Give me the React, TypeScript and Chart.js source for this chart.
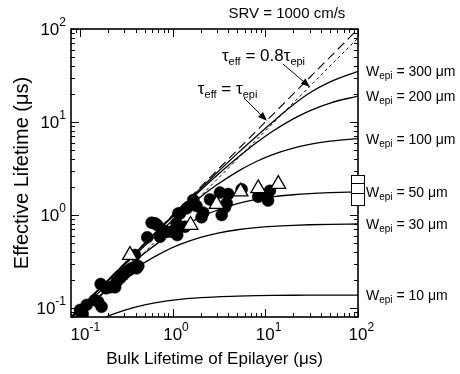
import React, { useEffect, useRef } from "react";
import { Chart, registerables } from "chart.js";
Chart.register(...registerables);

const FONT = "'Liberation Sans', Arial, Helvetica, sans-serif";

// axis
const axisMin = 0.08;
const axisMax = 100;
const majorTickValues = [0.1, 1, 10, 100];
const majorTickExponents = ["-1", "0", "1", "2"];

// model curves
const curveX = [0.08, 0.12, 0.2, 0.3, 0.5, 0.8, 1.2, 2, 3, 5, 8, 12, 20, 30, 50, 100];
const w10Y = [0.0506, 0.0642, 0.0816, 0.0945, 0.108, 0.1176, 0.1237, 0.129, 0.1319, 0.1342, 0.1356, 0.1364, 0.137, 0.1373, 0.1376, 0.1378];
const w30Y = [0.0728, 0.1045, 0.16, 0.219, 0.309, 0.402, 0.482, 0.575, 0.636, 0.694, 0.733, 0.756, 0.775, 0.785, 0.794, 0.8];
const w50Y = [0.0766, 0.1125, 0.18, 0.257, 0.391, 0.554, 0.72, 0.947, 1.125, 1.323, 1.469, 1.565, 1.65, 1.698, 1.736, 1.767];
const w100Y = [0.0791, 0.118, 0.1945, 0.288, 0.467, 0.719, 1.027, 1.56, 2.11, 2.93, 3.76, 4.46, 5.24, 5.75, 6.22, 6.63];
const w200Y = [0.0795, 0.1194, 0.1983, 0.2962, 0.4896, 0.7737, 1.142, 1.843, 2.66, 4.12, 5.97, 7.94, 10.8, 13.2, 16.0, 19.0];
const w300Y = [0.0799, 0.1197, 0.1993, 0.2983, 0.4954, 0.788, 1.174, 1.929, 2.84, 4.6, 7.0, 10.0, 15.3, 20.5, 27.0, 35.0];
const curveLabels = ["300", "200", "100", "50", "30", "10"];

// reference lines
const refX = [0.08, 100];
const equalY = [0.08, 100];
const eightyY = [0.064, 80];

// measured points
const circleX = [0.100, 0.107, 0.118, 0.145, 0.157, 0.171, 0.167, 0.191, 0.211, 0.239, 0.249, 0.270, 0.293, 0.319, 0.340, 0.361, 0.392, 0.409, 0.426, 0.392, 0.532, 0.593, 0.644, 0.682, 0.730, 0.780, 0.861, 0.975, 1.10, 1.15, 1.67, 1.81, 1.42, 1.20, 1.10, 1.01, 1.12, 1.36, 2.14, 2.05, 2.53, 3.24, 3.98, 3.83, 3.67, 3.38, 5.55, 8.38, 10.3, 11.2, 10.7];
const circleY = [0.0952, 0.0862, 0.108, 0.122, 0.117, 0.103, 0.181, 0.163, 0.167, 0.167, 0.192, 0.209, 0.226, 0.246, 0.256, 0.267, 0.278, 0.267, 0.283, 0.371, 0.575, 0.826, 0.814, 0.780, 0.584, 0.690, 0.661, 0.661, 0.636, 1.04, 1.45, 1.25, 1.18, 1.04, 0.814, 0.661, 0.609, 0.749, 1.06, 0.945, 1.47, 1.74, 1.68, 1.34, 1.21, 1.00, 1.89, 1.57, 1.60, 1.82, 1.43];
const triangleX = [1.56, 2.98, 5.41, 8.38, 13.8, 0.346];
const triangleY = [0.78, 1.31, 1.78, 1.93, 2.15, 0.37];

// side box on the right axis (data coords)
const boxX = [85, 118];
const boxY = [1.28, 1.72, 2.21, 2.69];

// annotations (data coords)
const arrow08 = [15.5, 42, 30.3, 23.8];
const arrowEq = [5.9, 18.1, 10.4, 10.3];
const label08Pos = [3.4, 45.3];
const labelEqPos = [1.87, 20.0];
const srvPos = [17.1, 131];

const pts = (xs: number[], ys: number[]) => xs.map((x, i) => ({ x, y: ys[i] }));

type Part = { text: string; size: number; dy?: number };
function drawRich(ctx: CanvasRenderingContext2D, x: number, y: number, parts: Part[]) {
  let cx = x;
  for (const p of parts) {
    ctx.font = `${p.size}px ${FONT}`;
    ctx.fillText(p.text, cx, y + (p.dy || 0));
    cx += ctx.measureText(p.text).width;
  }
}

function drawArrow(ctx: CanvasRenderingContext2D, x1: number, y1: number, x2: number, y2: number) {
  const ang = Math.atan2(y2 - y1, x2 - x1);
  const L = 9, W = 3.5;
  ctx.beginPath();
  ctx.moveTo(x1, y1);
  ctx.lineTo(x2 - Math.cos(ang) * L * 0.8, y2 - Math.sin(ang) * L * 0.8);
  ctx.lineWidth = 1;
  ctx.stroke();
  ctx.beginPath();
  ctx.moveTo(x2, y2);
  ctx.lineTo(x2 - Math.cos(ang) * L + Math.sin(ang) * W, y2 - Math.sin(ang) * L - Math.cos(ang) * W);
  ctx.lineTo(x2 - Math.cos(ang) * L - Math.sin(ang) * W, y2 - Math.sin(ang) * L + Math.cos(ang) * W);
  ctx.closePath();
  ctx.fill();
}

const decorPlugin = {
  id: "decor",
  afterDatasetsDraw(chart: any) {
    const { ctx, chartArea: a, scales } = chart;
    const xs = scales.x, ys = scales.y;
    ctx.save();
    ctx.strokeStyle = "#000";
    ctx.fillStyle = "#000";

    // inward ticks on four sides
    ctx.lineWidth = 1;
    ctx.beginPath();
    for (let k = -2; k <= 2; k++) {
      for (let m = 1; m <= 9; m++) {
        const v = m * Math.pow(10, k);
        if (v < axisMin * 0.999 || v > axisMax * 1.001) continue;
        const len = m === 1 ? 8 : 4;
        const px = Math.round(xs.getPixelForValue(v)) + 0.5;
        ctx.moveTo(px, a.bottom); ctx.lineTo(px, a.bottom - len);
        ctx.moveTo(px, a.top); ctx.lineTo(px, a.top + len);
        const py = Math.round(ys.getPixelForValue(v)) + 0.5;
        ctx.moveTo(a.left, py); ctx.lineTo(a.left + len, py);
        ctx.moveTo(a.right, py); ctx.lineTo(a.right - len, py);
      }
    }
    ctx.stroke();

    // frame
    ctx.lineWidth = 1.6;
    ctx.strokeRect(a.left, a.top, a.right - a.left, a.bottom - a.top);

    // tick labels
    ctx.textBaseline = "alphabetic";
    ctx.textAlign = "left";
    majorTickValues.forEach((v, i) => {
      const exp = majorTickExponents[i];
      const px = xs.getPixelForValue(v);
      ctx.font = `17px ${FONT}`;
      const w = ctx.measureText("10").width;
      ctx.fillText("10", px - w / 2, a.bottom + 23);
      ctx.font = `12px ${FONT}`;
      ctx.fillText(exp, px + w / 2, a.bottom + 14);

      const py = ys.getPixelForValue(v);
      ctx.font = `12px ${FONT}`;
      const we = ctx.measureText(exp).width;
      ctx.font = `17px ${FONT}`;
      const w2 = ctx.measureText("10").width;
      const x0 = a.left - 5 - we - w2;
      ctx.fillText("10", x0, py + 6);
      ctx.font = `12px ${FONT}`;
      ctx.fillText(exp, x0 + w2, py - 3);
    });

    // curve labels at the right
    const ends = [w300Y, w200Y, w100Y, w50Y, w30Y, w10Y].map((arr) => arr[arr.length - 1]);
    ends.forEach((v, i) => {
      const py = ys.getPixelForValue(v);
      drawRich(ctx, a.right + 8, py + 5, [
        { text: "W", size: 14 },
        { text: "epi", size: 10, dy: 3 },
        { text: ` = ${curveLabels[i]} μm`, size: 14 },
      ]);
    });

    // box on the right axis
    const bx1 = xs.getPixelForValue(boxX[0]);
    const bx2 = xs.getPixelForValue(boxX[1]);
    const byTop = ys.getPixelForValue(boxY[3]);
    const byBot = ys.getPixelForValue(boxY[0]);
    ctx.fillStyle = "#fff";
    ctx.fillRect(bx1, byTop, bx2 - bx1, byBot - byTop);
    ctx.fillStyle = "#000";
    ctx.lineWidth = 1;
    ctx.strokeRect(Math.round(bx1) + 0.5, Math.round(byTop) + 0.5, Math.round(bx2 - bx1), Math.round(byBot - byTop));
    ctx.beginPath();
    [boxY[1], boxY[2]].forEach((v) => {
      const py = Math.round(ys.getPixelForValue(v)) + 0.5;
      ctx.moveTo(bx1, py); ctx.lineTo(bx2, py);
    });
    ctx.stroke();

    // annotations
    drawRich(ctx, xs.getPixelForValue(label08Pos[0]), ys.getPixelForValue(label08Pos[1]), [
      { text: "τ", size: 17 },
      { text: "eff", size: 11, dy: 4 },
      { text: " = 0.8τ", size: 17 },
      { text: "epi", size: 11, dy: 4 },
    ]);
    drawRich(ctx, xs.getPixelForValue(labelEqPos[0]), ys.getPixelForValue(labelEqPos[1]), [
      { text: "τ", size: 17 },
      { text: "eff", size: 11, dy: 4 },
      { text: " = τ", size: 17 },
      { text: "epi", size: 11, dy: 4 },
    ]);
    [arrow08, arrowEq].forEach((ar) => {
      drawArrow(ctx, xs.getPixelForValue(ar[0]), ys.getPixelForValue(ar[1]), xs.getPixelForValue(ar[2]), ys.getPixelForValue(ar[3]));
    });
    ctx.font = `15px ${FONT}`;
    ctx.textAlign = "center";
    ctx.fillText("SRV = 1000 cm/s", xs.getPixelForValue(srvPos[0]), ys.getPixelForValue(srvPos[1]));
    ctx.restore();
  },
};

const curveStyle = {
  showLine: true,
  pointRadius: 0,
  borderColor: "#000",
  borderWidth: 1.3,
  cubicInterpolationMode: "monotone" as const,
  order: 2,
};

export default function App() {
  const ref = useRef<HTMLCanvasElement>(null);
  useEffect(() => {
    const chart = new Chart(ref.current!, {
      type: "scatter",
      data: {
        datasets: [
          { label: "triangles", data: pts(triangleX, triangleY), pointStyle: "triangle", pointRadius: 8.5, pointBackgroundColor: "#fff", pointBorderColor: "#000", pointBorderWidth: 1.3, order: 0 },
          { label: "circles", data: pts(circleX, circleY), pointStyle: "circle", pointRadius: 6, pointBackgroundColor: "#000", pointBorderColor: "#000", pointBorderWidth: 0.5, order: 1 },
          { label: "W300", data: pts(curveX, w300Y), ...curveStyle },
          { label: "W200", data: pts(curveX, w200Y), ...curveStyle },
          { label: "W100", data: pts(curveX, w100Y), ...curveStyle },
          { label: "W50", data: pts(curveX, w50Y), ...curveStyle },
          { label: "W30", data: pts(curveX, w30Y), ...curveStyle },
          { label: "W10", data: pts(curveX, w10Y), ...curveStyle },
          { label: "eq", data: pts(refX, equalY), showLine: true, pointRadius: 0, borderColor: "#000", borderWidth: 1.1, borderDash: [9, 5], order: 3 },
          { label: "eighty", data: pts(refX, eightyY), showLine: true, pointRadius: 0, borderColor: "#000", borderWidth: 1, borderDash: [3, 3], order: 3 },
        ],
      },
      options: {
        responsive: false,
        animation: false,
        layout: { padding: { left: 0, top: 29, right: 102, bottom: 0 } },
        plugins: { legend: { display: false }, tooltip: { enabled: false } },
        scales: {
          x: {
            type: "logarithmic",
            min: axisMin,
            max: axisMax,
            grid: { display: false },
            border: { display: false },
            ticks: { display: false },
            title: { display: true, text: "Bulk Lifetime of Epilayer (μs)", color: "#000", font: { family: FONT, size: 17 }, padding: { top: 0, bottom: 4 } },
            afterFit: (s: any) => { s.height = 57; },
          },
          y: {
            type: "logarithmic",
            min: axisMin,
            max: axisMax,
            grid: { display: false },
            border: { display: false },
            ticks: { display: false },
            title: { display: true, text: "Effective Lifetime (μs)", color: "#000", font: { family: FONT, size: 20 }, padding: { top: 10, bottom: 0 } },
            afterFit: (s: any) => { s.width = 71; },
          },
        },
      },
      plugins: [decorPlugin],
    } as any);
    return () => chart.destroy();
  }, []);
  return (
    <div style={{ position: "fixed", left: 0, top: 0, width: 460, height: 374, background: "#fff" }}>
      <canvas ref={ref} width={460} height={374} style={{ display: "block", width: 460, height: 374 }} />
    </div>
  );
}
